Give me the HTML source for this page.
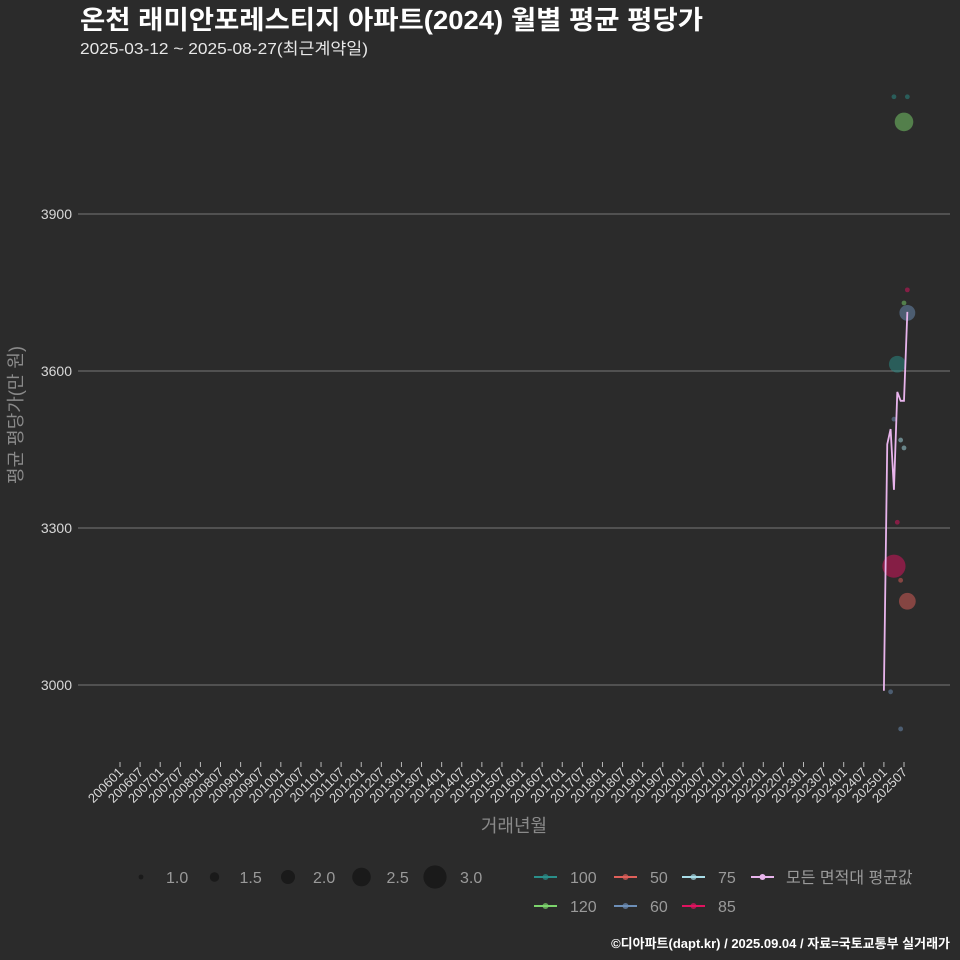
<!DOCTYPE html>
<html><head><meta charset="utf-8">
<style>
html,body{margin:0;padding:0;background:#2b2b2b;}
svg{display:block;font-family:"Liberation Sans","Noto Sans CJK KR",sans-serif;}
</style></head>
<body>
<svg id="chart" width="960" height="960" viewBox="0 0 960 960">
<rect width="960" height="960" fill="#2b2b2b"/>
<text x="80" y="29" fill="#ffffff" font-size="26" font-weight="bold" textLength="623" lengthAdjust="spacingAndGlyphs">온천 래미안포레스티지 아파트(2024) 월별 평균 평당가</text>
<text x="80" y="54" fill="#e8e8e8" font-size="16" textLength="288" lengthAdjust="spacingAndGlyphs">2025-03-12 ~ 2025-08-27(최근계약일)</text>
<g id="grid"></g>
<g id="yaxis"></g>
<g id="xaxis"></g>
<g id="marks"></g>
<text transform="translate(22,415) rotate(-90)" text-anchor="middle" fill="#8a8a8a" font-size="18">평균 평당가(만 원)</text>
<text x="514" y="832" text-anchor="middle" fill="#8a8a8a" font-size="18">거래년월</text>
<g id="legend"></g>
<text x="950" y="948" text-anchor="end" fill="#ffffff" font-size="13" font-weight="bold">©디아파트(dapt.kr) / 2025.09.04 / 자료=국토교통부 실거래가</text>
</svg>
<script>
const yTicks = [3000, 3300, 3600, 3900];
const avgMonths = ["2025-01","2025-02","2025-03","2025-04","2025-05","2025-06","2025-07","2025-08"];
const avgValues = [2989, 3460, 3489, 3373, 3560, 3543, 3543, 3713];
const dotMonths = ["2025-04","2025-08","2025-07","2025-08","2025-07","2025-08","2025-05","2025-04","2025-06","2025-07","2025-05","2025-04","2025-06","2025-08","2025-03","2025-06"];
const dotValues = [4124, 4124, 4076, 3755, 3730, 3711, 3613, 3508, 3468, 3453, 3311, 3227, 3200, 3160, 2987, 2916];
const dotSizes  = [1.0, 1.0, 2.5, 1.0, 1.0, 2.2, 2.3, 1.0, 1.0, 1.0, 1.0, 3.0, 1.0, 2.3, 1.0, 1.0];
const dotGroups = ["100","100","120","85","120","60","100","60","75","75","85","85","50","50","60","60"];
const groupNames = ["100","50","75","120","60","85"];
const groupColors = {"100":"#2a8f8a","50":"#e0605a","75":"#a8dde8","120":"#7cd46c","60":"#6d8fb8","85":"#e0125f"};
const avgColor = "#e8b4ec";
const sizeLegend = [1.0, 1.5, 2.0, 2.5, 3.0];

const NS = "http://www.w3.org/2000/svg";
function mk(tag, attrs, parent){const e=document.createElementNS(NS,tag);for(const k in attrs)e.setAttribute(k,attrs[k]);parent.appendChild(e);return e;}
function monthIndex(s){const y=+s.slice(0,4),m=+s.slice(5,7);return (y-2006)*12+(m-1);}
function xScale(s){return 120 + monthIndex(s)*(784/234);}
function yScale(v){return 685 - (v-3000)*(157/300);}
function rScale(s){return 2.4 + (s-1)*4.6;}

const grid=document.getElementById('grid'), yax=document.getElementById('yaxis');
yTicks.forEach(t=>{
  const l=mk('line',{x1:78,x2:950,y1:yScale(t),y2:yScale(t),stroke:'#777777','stroke-width':0.9},grid);
  
  
  const tx=mk('text',{x:72,y:yScale(t)+5,'text-anchor':'end',fill:'#d8d8d8','font-size':14},yax);
  tx.textContent=t;
  
  
});

const xax=document.getElementById('xaxis');
for(let y=2006;y<=2025;y++){
  for(const m of ["01","07"]){
    const lab=y+m, x=xScale(y+"-"+m);
    const tk=mk('line',{x1:x,x2:x,y1:762,y2:767,stroke:'#bbbbbb','stroke-width':1},xax);
    
    
    const tx=mk('text',{transform:`translate(${x+4},${773}) rotate(-45)`,'text-anchor':'end',fill:'#d8d8d8','font-size':13},xax);
    tx.textContent=lab;
    
    
  }
}

const marks=document.getElementById('marks');
dotValues.forEach((v,i)=>{
  const c=mk('circle',{cx:xScale(dotMonths[i]),cy:yScale(v),r:rScale(dotSizes[i]),fill:groupColors[dotGroups[i]],'fill-opacity':0.5},marks);
  
  
});
const pts=avgValues.map((v,i)=>xScale(avgMonths[i])+','+yScale(v)).join(' ');
const pl=mk('polyline',{points:pts,fill:'none',stroke:avgColor,'stroke-width':1.8},marks);



const leg=document.getElementById('legend');
sizeLegend.forEach((s,i)=>{
  const cx=141+i*73.5;
  const c=mk('circle',{cx:cx,cy:877,r:rScale(s),fill:'#1a1a1a'},leg);
  
  
  const t=mk('text',{x:cx+25,y:883,fill:'#9a9a9a','font-size':16},leg);
  t.textContent=s.toFixed(1);
  
  
});
const legPos=[[534,877],[614,877],[682,877],[534,906],[614,906],[682,906]];
groupNames.forEach((g,i)=>{
  const [x,y]=legPos[i];
  const gl=mk('g',{},leg);
  
  
  mk('line',{x1:x,x2:x+23,y1:y,y2:y,stroke:groupColors[g],'stroke-width':2},gl);
  mk('circle',{cx:x+11.5,cy:y,r:3,fill:groupColors[g],'fill-opacity':0.7},gl);
  const t=mk('text',{x:x+36,y:y+6,fill:'#9a9a9a','font-size':16},gl);
  t.textContent=g;
});
const ga=mk('g',{},leg);


mk('line',{x1:751,x2:774,y1:877,y2:877,stroke:avgColor,'stroke-width':2},ga);
mk('circle',{cx:762.5,cy:877,r:3,fill:avgColor},ga);
const ta=mk('text',{x:786,y:883,fill:'#9a9a9a','font-size':16},ga);
ta.textContent='모든 면적대 평균값';
</script>
</body></html>
